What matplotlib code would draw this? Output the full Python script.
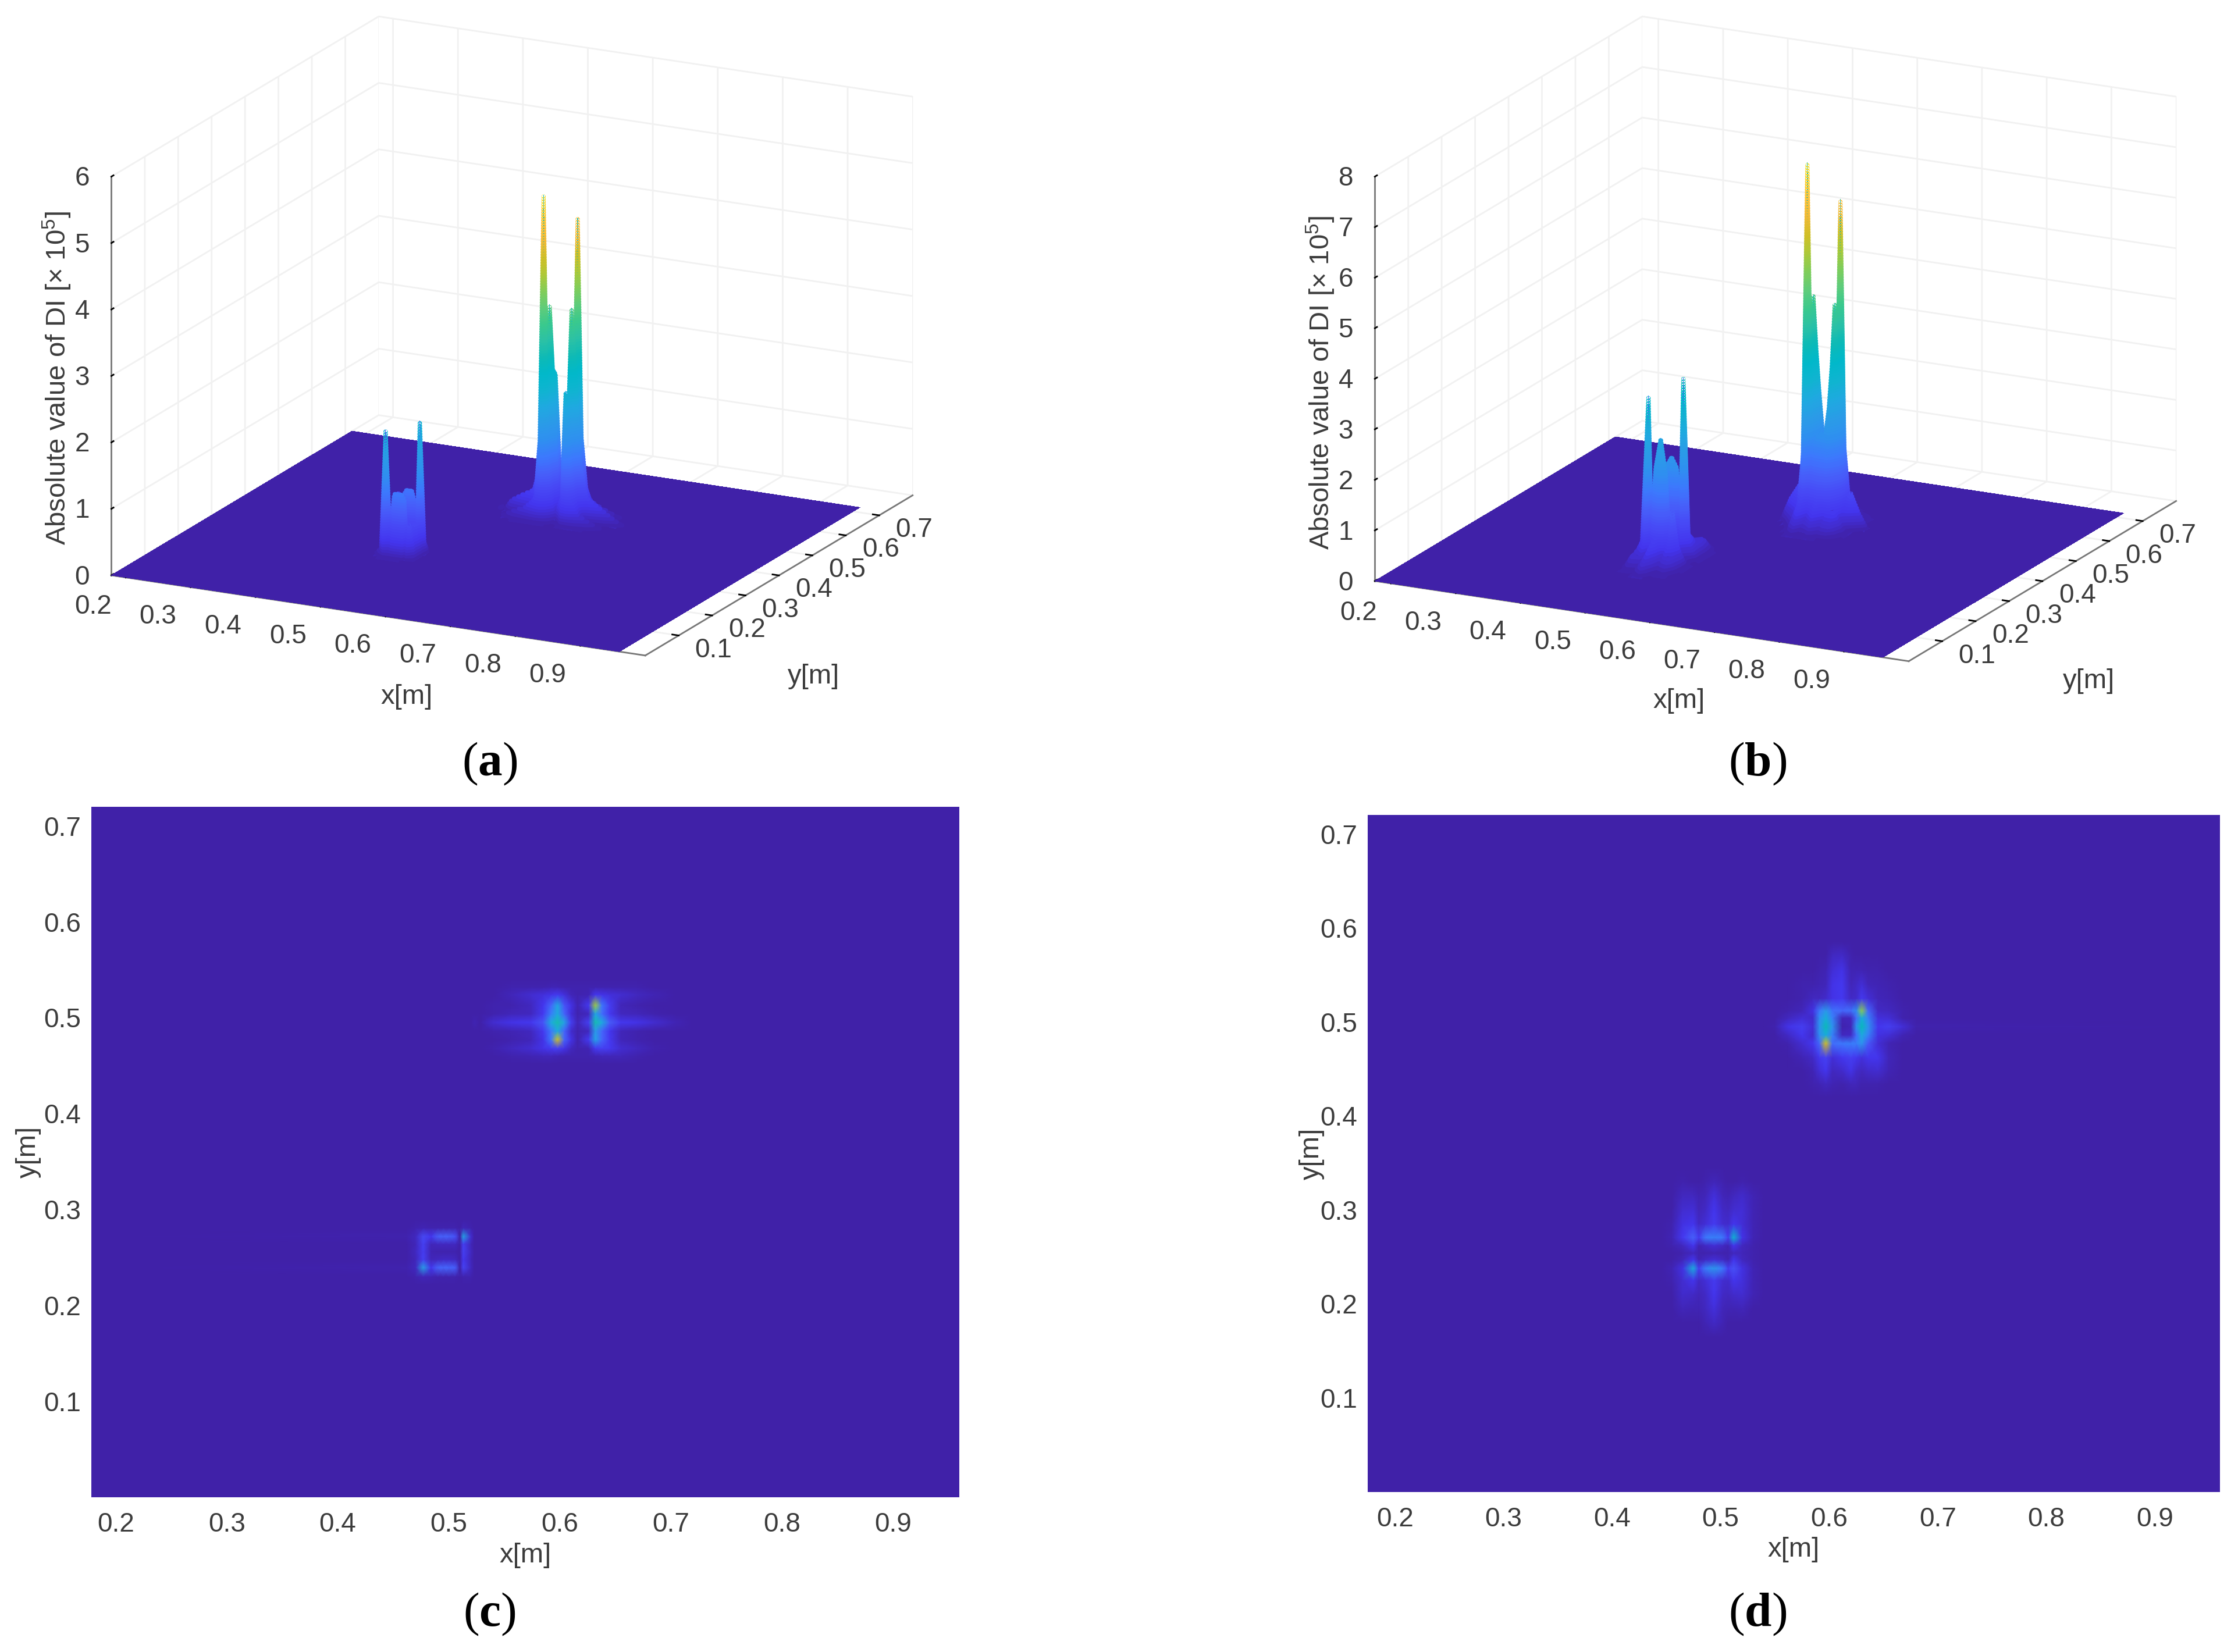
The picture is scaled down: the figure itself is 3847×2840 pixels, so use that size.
import numpy as np
import matplotlib
matplotlib.use("Agg")
import matplotlib.pyplot as plt
from matplotlib.colors import LinearSegmentedColormap
from mpl_toolkits.mplot3d import proj3d

plt.rcParams['font.family'] = ['Liberation Sans', 'DejaVu Sans']
plt.rcParams['mathtext.fontset'] = 'custom'
plt.rcParams['mathtext.rm'] = 'Liberation Sans'
plt.rcParams['mathtext.bf'] = 'Liberation Serif:bold'
plt.rcParams['grid.color'] = '#f1f1f1'
plt.rcParams['grid.linewidth'] = 2.0

W, H = 3848, 2840
S = W / 1568  # reference was measured on the 1568 wide copy
GRAY = '#3c3c3c'

PARULA = ['#4021a8', '#4335ee', '#4748f5', '#4760fa', '#3c79fd', '#2f8ff0', '#2a9ce7', '#1fa9e0',
          '#10b4d0', '#01b8ca', '#0cbab7', '#2cc1a5', '#3ac98d', '#5fcc7b', '#80cd5a', '#abc93a',
          '#d0bf27', '#f0ba36', '#fec238', '#fad02d', '#f5e327', '#f9fb14']

x_ticks = [0.2, 0.3, 0.4, 0.5, 0.6, 0.7, 0.8, 0.9]
y_ticks = [0.1, 0.2, 0.3, 0.4, 0.5, 0.6, 0.7]
y_range = [0.0, 0.72]

# values in 1e5 units (a)/(c), rows go upward in y
ac_top_x = [.51, .523, .54, .556, .574, .585, .592, .598, .604, .61, .616, .626, .632, .638, .645, .655, .67, .685, .705, .72]
ac_top_y = [.452, .46, .468, .477, .486, .495, .504, .513, .524, .532, .54]
ac_top_z = [
    [0, 0, 0, 0, 0, 0, 0, 0, 0, 0, 0, 0, 0, 0, 0, 0, 0, 0, 0, 0],
    [0, 0, 0, .04, .06, .08, .08, .06, .05, .04, .03, .03, .06, .08, .09, .08, .05, .02, 0, 0],
    [0, 0, .04, .12, .2, .3, .4, .5, .3, .12, .04, .06, .4, .5, .4, .2, .12, .05, 0, 0],
    [0, 0, .02, .04, .08, .3, 1.2, 4.9, 1.0, .3, .05, .4, 2.0, 1.0, .4, .08, .04, .01, 0, 0],
    [0, 0, .03, .06, .12, .4, 1.2, 2.2, 1.0, .2, .03, .12, 1.8, 1.0, .35, .1, .05, .02, 0, 0],
    [0, .06, .18, .28, .38, .8, 2.2, 3.2, 2.0, .5, .08, .5, 3.2, 2.2, .9, .38, .28, .18, .06, 0],
    [0, .02, .05, .08, .12, .4, 1.3, 2.2, 1.0, .25, .03, .12, 2.1, 1.1, .4, .12, .08, .04, .01, 0],
    [0, 0, .03, .05, .12, .35, 1.0, 2.1, .8, .3, .06, .4, 4.5, 1.2, .45, .1, .05, .02, 0, 0],
    [0, 0, .02, .1, .18, .25, .3, .4, .25, .1, .04, .06, .35, .3, .25, .18, .12, .06, 0, 0],
    [0, 0, 0, .03, .04, .05, .06, .06, .05, .04, .03, .03, .05, .05, .05, .04, .03, .01, 0, 0],
    [0, 0, 0, 0, 0, 0, 0, 0, 0, 0, 0, 0, 0, 0, 0, 0, 0, 0, 0, 0],
]
ac_low_x = [.462, .47, .477, .484, .49, .495, .5, .506, .513, .52, .528]
ac_low_y = [.222, .23, .2395, .248, .256, .264, .272, .281, .29]
ac_low_z = [
    [0, 0, 0, 0, 0, 0, 0, 0, 0, 0, 0],
    [0, .03, .08, .06, .05, .05, .05, .05, .04, .03, 0],
    [.03, .12, 1.9, .35, .95, 1.0, 1.0, .9, .55, .12, 0],
    [0, .1, .5, .1, .12, .15, .15, .12, .38, .1, 0],
    [0, .12, .45, .06, .03, .03, .03, .04, .5, .12, 0],
    [0, .1, .5, .1, .12, .12, .12, .12, .5, .1, 0],
    [.03, .12, .65, .35, .9, .95, .95, .75, 2.0, .18, .01],
    [0, .03, .06, .05, .05, .05, .05, .05, .1, .03, 0],
    [0, 0, 0, 0, 0, 0, 0, 0, 0, 0, 0],
]

# same for panels (b)/(d)
bd_top_x = [.55, .562, .575, .585, .591, .597, .603, .612, .62, .625, .63, .636, .645, .655, .668, .68]
bd_top_y = [.42, .434, .448, .462, .477, .486, .495, .504, .512, .525, .54, .555, .572, .585]
bd_top_z = [
    [0, 0, 0, 0, 0, 0, 0, 0, 0, 0, 0, 0, 0, 0, 0, 0],
    [0, 0, 0, .04, .1, .17, .08, .07, .14, .12, .07, .05, .04, .03, 0, 0],
    [0, 0, .02, .1, .3, .45, .17, .25, .42, .25, .17, .25, .28, .08, 0, 0],
    [0, 0, .08, .2, .5, .75, .3, .5, .7, .5, .35, .45, .45, .14, 0, 0],
    [0, .05, .28, .5, 1.5, 7.2, 1.6, 1.8, 1.9, 1.9, 2.4, 1.2, .3, .1, .02, 0],
    [0, .2, .5, .25, 2.2, 3.4, 2.0, .18, .22, 1.6, 3.2, 2.0, .4, .3, .08, 0],
    [.04, .42, .7, .3, 2.4, 4.5, 2.4, .06, .14, 2.4, 4.4, 2.4, .5, .7, .3, .04],
    [0, .17, .3, .25, 2.2, 3.4, 2.0, .12, .17, 1.6, 3.4, 2.0, .35, .3, .07, 0],
    [0, .04, .14, .4, 1.8, 2.6, 1.7, 1.5, 1.6, 2.2, 6.4, 1.5, .2, .15, .04, 0],
    [0, 0, .06, .15, .18, .25, .42, .55, .2, .25, .55, .3, .14, .11, .03, 0],
    [0, 0, .04, .06, .08, .12, .42, .55, .14, .2, .3, .14, .08, .07, .02, 0],
    [0, 0, 0, .02, .04, .08, .3, .42, .11, .1, .11, .06, .04, 0, 0, 0],
    [0, 0, 0, 0, .01, .03, .17, .2, .04, .03, .03, .01, 0, 0, 0, 0],
    [0, 0, 0, 0, 0, 0, 0, 0, 0, 0, 0, 0, 0, 0, 0, 0],
]
bd_low_x = [.445, .455, .465, .475, .48, .486, .494, .502, .507, .512, .52, .53, .54]
bd_low_y = [.165, .18, .195, .21, .225, .2378, .247, .254, .262, .2705, .285, .30, .315, .33, .345]
bd_low_z = [
    [0, 0, 0, 0, 0, 0, 0, 0, 0, 0, 0, 0, 0],
    [0, 0, 0, 0, .03, .1, .2, .08, .03, 0, 0, 0, 0],
    [0, 0, .12, .1, .08, .18, .35, .14, .08, .08, .12, .03, 0],
    [0, .03, .24, .22, .12, .2, .5, .2, .16, .24, .28, .08, 0],
    [0, .05, .28, .45, .2, .3, .62, .28, .24, .45, .34, .1, 0],
    [0, .08, .4, 3.3, .7, 1.9, 2.5, 1.8, .7, 1.1, .4, .1, .01],
    [0, .03, .12, .45, .1, .2, .3, .2, .1, .45, .18, .06, 0],
    [0, .01, .06, .15, .04, .06, .08, .06, .04, .15, .12, .04, 0],
    [0, .05, .18, .45, .1, .2, .3, .2, .1, .45, .16, .05, 0],
    [0, .08, .55, 1.4, .6, 1.8, 2.0, 1.8, .7, 3.6, .42, .1, 0],
    [0, .05, .38, .45, .2, .3, .62, .28, .24, .45, .32, .1, 0],
    [0, .03, .28, .3, .14, .2, .5, .2, .18, .28, .32, .1, 0],
    [0, .01, .18, .15, .08, .12, .35, .14, .1, .15, .24, .08, 0],
    [0, 0, .05, .03, .03, .05, .12, .05, .03, .03, .06, .02, 0],
    [0, 0, 0, 0, 0, 0, 0, 0, 0, 0, 0, 0, 0],
]

cmap = LinearSegmentedColormap.from_list('parula', PARULA)


def build_field(x_range, top_x, top_y, top_z, low_x, low_y, low_z):
    # flat floor with the two patches put in at their own nodes
    xs = np.unique(np.r_[x_range, top_x, low_x])
    ys = np.unique(np.r_[y_range, top_y, low_y])
    zz = np.zeros((len(ys), len(xs)))
    zz[np.ix_(np.searchsorted(ys, top_y), np.searchsorted(xs, top_x))] = top_z
    zz[np.ix_(np.searchsorted(ys, low_y), np.searchsorted(xs, low_x))] = low_z
    return xs, ys, zz


def fit_box(ax, corners, targets):
    # move and scale the 3d axes so two box corners land where the reference has them
    t0, t1 = [np.array([tx * S, H - ty * S]) for tx, ty in targets]
    for _ in range(3):
        ax.apply_aspect()
        M = ax.get_proj()
        pts = []
        for c in corners:
            px, py, _z = proj3d.proj_transform(c[0], c[1], c[2], M)
            pts.append(ax.transData.transform((px, py)))
        p0, p1 = pts
        bb = ax.get_position()
        size = bb.width * W
        cen = np.array([bb.x0 * W + size / 2, bb.y0 * H + bb.height * H / 2])
        k = np.linalg.norm(t1 - t0) / np.linalg.norm(p1 - p0)
        cen = t0 - (p0 - cen) * k
        size = size * k
        ax.set_position([(cen[0] - size / 2) / W, (cen[1] - size / 2) / H, size / W, size / H])


def panel_3d(field, zmax, vmax, left, front, z_aspect, labels):
    xs, ys, zz = field
    ax = fig.add_subplot(projection='3d', computed_zorder=False)
    ax.set_proj_type('ortho')
    ax.view_init(elev=17.46, azim=-63.4)
    ax.set_box_aspect((1, 1, z_aspect))
    ax.set_xlim(xs[0], 1.0, view_margin=0)
    ax.set_ylim(0.0, 0.8, view_margin=0)
    ax.set_zlim(0, zmax, view_margin=0)
    ax.patch.set_alpha(0)
    ax.set_xticks(x_ticks)
    ax.set_yticks(y_ticks)
    ax.set_zticks(range(0, zmax + 1))
    ax.set_xticklabels(['%.1f' % v for v in x_ticks])
    ax.set_yticklabels(['%.1f' % v for v in y_ticks])
    for axis in (ax.xaxis, ax.yaxis, ax.zaxis):
        axis.set_pane_color((1, 1, 1, 1))
        axis.pane.set_edgecolor('#f1f1f1')
        axis.line.set_color('#777777')
        axis.line.set_linewidth(2.0)
        axis._axinfo['tick']['inward_factor'] = 0.0
        axis._axinfo['tick']['outward_factor'] = 0.15
        axis._axinfo['tick']['linewidth'] = {True: 2.0, False: 1.0}
        axis._axinfo['tick']['color'] = '#777777'
    ax.zaxis._axinfo['tick']['outward_factor'] = 0.1
    ax.tick_params(axis='x', labelsize=33, labelcolor=GRAY, pad=23)
    ax.tick_params(axis='y', labelsize=33, labelcolor=GRAY, pad=10)
    ax.tick_params(axis='z', labelsize=33, labelcolor=GRAY, pad=8)
    ax.zaxis.set_ticks_position('lower')
    plt.setp(ax.get_xticklabels(), ha='right', va='center')
    plt.setp(ax.get_yticklabels(), ha='left', va='center')
    plt.setp(ax.get_zticklabels(), ha='right', va='center')

    X, Y = np.meshgrid(xs, ys)
    ax.plot_surface(X, Y, zz, cmap=cmap, vmin=0, vmax=vmax, rstride=1, cstride=1,
                    linewidth=0, antialiased=False, shade=False, zorder=2)
    # thick iso-height lines give the smooth height colouring up the spikes
    step = zmax / 6 * 0.04
    ax.contour(X, Y, zz, levels=np.arange(step, zz.max(), step), cmap=cmap, vmin=0, vmax=vmax,
               linewidths=step * 46.5 * S * 0.72 * 1.6 * 6 / zmax, zorder=3)
    fit_box(ax, [(xs[0], 0.0, 0.0), (1.0, 0.0, 0.0)], [left, front])
    for (tx, ty, txt, rot) in labels:
        fig.text(tx * S / W, 1 - ty * S / H, txt, rotation=rot, ha='center', va='center',
                 fontsize=34, color=GRAY)
    return ax


def panel_2d(field, vmax, box, ypad):
    xs, ys, zz = field
    l, t, r, b = [v * S for v in box]
    ax = fig.add_axes([l / W, 1 - b / H, (r - l) / W, (b - t) / H])
    ax.pcolormesh(xs, ys, zz, shading='gouraud', cmap=cmap, vmin=0, vmax=vmax, rasterized=True)
    ax.set_xlim(xs[0], xs[-1])
    ax.set_ylim(y_range)
    ax.set_xticks(x_ticks)
    ax.set_yticks(y_ticks)
    ax.set_xticklabels(['%.1f' % v for v in x_ticks])
    ax.set_yticklabels(['%.1f' % v for v in y_ticks])
    ax.tick_params(axis='x', length=0, labelsize=33, labelcolor=GRAY, pad=18)
    ax.tick_params(axis='y', length=0, labelsize=33, labelcolor=GRAY, pad=13)
    for s in ax.spines.values():
        s.set_visible(False)
    ax.set_xlabel('x[m]', fontsize=34, color=GRAY, labelpad=6)
    ax.set_ylabel('y[m]', fontsize=34, color=GRAY, labelpad=ypad)
    return ax


fig = plt.figure(figsize=(W / 100, H / 100), dpi=100, facecolor='white')

field_ac = build_field([0.178, 0.96], ac_top_x, ac_top_y, ac_top_z, ac_low_x, ac_low_y, ac_low_z)
field_bd = build_field([0.175, 0.96], bd_top_x, bd_top_y, bd_top_z, bd_low_x, bd_low_y, bd_low_z)

zlabel = r'Absolute value of DI [$\times$ 10$^{5}$]'
panel_3d(field_ac, 6, 5.2, (78, 403), (452, 459), 0.70,
         [(285, 488, 'x[m]', 0), (570, 474, 'y[m]', 0), (40, 265, zlabel, 90)])
panel_3d(field_bd, 8, 7.6, (963, 407), (1337, 463), 0.71,
         [(1176, 491, 'x[m]', 0), (1463, 477, 'y[m]', 0), (925, 268, zlabel, 90)])
panel_2d(field_ac, 6.5, (64, 565, 672, 1049), 3)
panel_2d(field_bd, 9.5, (958, 571, 1555, 1045), -6)

for tag, cx, cy in [('a', 343, 535), ('b', 1231, 535), ('c', 343, 1131), ('d', 1231, 1131)]:
    fig.text(cx * S / W, 1 - cy * S / H, r'($\mathbf{%s}$)' % tag, ha='center', va='center',
             fontsize=60, family='Liberation Serif', color='black')

fig.savefig('out.png', dpi=100)
